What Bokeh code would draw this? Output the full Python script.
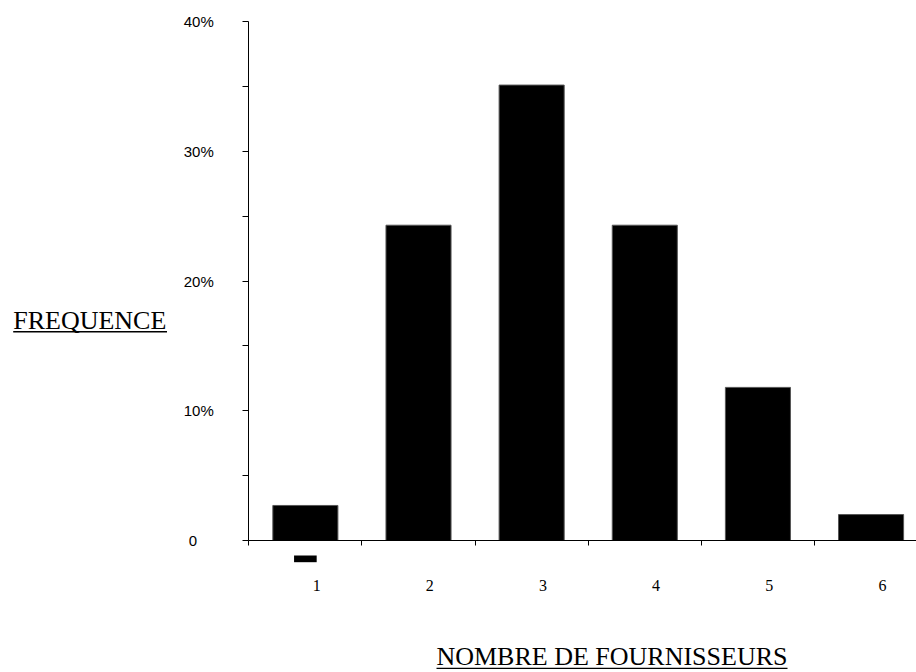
from bokeh.plotting import figure
from bokeh.models import FixedTicker, LinearAxis, Range1d, Label, BoxAnnotation
from bokeh.embed import file_html
from bokeh.resources import INLINE

# ---- data ----
categories = [1, 2, 3, 4, 5, 6]
frequence = [2.7, 24.3, 35.1, 24.3, 11.8, 2.0]
y_ticks = [0, 10, 20, 30, 40]
y_minor_ticks = [5, 15, 25, 35]
y_tick_labels = ["0\u2007\u2007", "10%", "20%", "30%", "40%"]
x_title = "NOMBRE DE FOURNISSEURS"
y_title = "FREQUENCE"

SERIF = "Liberation Serif"
SANS = "Liberation Sans"

# ---- layout (pixels) ----
W, H = 916, 672
X0PX, XU = 248.3, 113.14      # pixel of x=0.5, pixels per category
Y0PX, YU = 540.0, 12.975      # pixel of y=0, pixels per 1 %

def px_to_x(px):
    return 0.5 + (px - X0PX) / XU

def px_to_y(py):
    return (Y0PX - py) / YU

x_start, x_end = px_to_x(0), px_to_x(W)
y_start, y_end = px_to_y(H), px_to_y(0)

p = figure(width=W, height=H, output_backend="svg", toolbar_location=None,
           x_range=Range1d(x_start, x_end), y_range=Range1d(y_start, y_end),
           min_border=0, x_axis_type=None, y_axis_type=None)
p.outline_line_color = None
p.background_fill_color = "white"
p.border_fill_color = "white"

p.vbar(x=categories, top=frequence, width=0.575, fill_color="black",
       line_color="#555555", line_width=1)

# y axis
ya = LinearAxis(fixed_location=0.5, bounds=(y_ticks[0], y_ticks[-1]),
                ticker=FixedTicker(ticks=y_ticks, minor_ticks=y_minor_ticks))
ya.major_label_overrides = {t: l for t, l in zip(y_ticks, y_tick_labels)}
ya.major_tick_out = 6
ya.major_tick_in = 0
ya.minor_tick_out = 6
ya.minor_tick_in = 0
ya.axis_line_color = "black"
ya.major_tick_line_color = "black"
ya.minor_tick_line_color = "black"
ya.major_label_text_font = SANS
ya.major_label_text_font_size = "15px"
ya.major_label_text_color = "black"
ya.major_label_standoff = 29
p.add_layout(ya, "left")

# x axis: line + category boundary ticks
bounds = [c - 0.5 for c in categories] + [categories[-1] + 0.5]
xa = LinearAxis(fixed_location=0, bounds=(0.5, x_end),
                ticker=FixedTicker(ticks=bounds, minor_ticks=[]))
xa.major_tick_out = 5
xa.major_tick_in = 0
xa.minor_tick_out = 0
xa.axis_line_color = "black"
xa.major_tick_line_color = "black"
xa.major_label_text_font_size = "0px"
xa.major_label_text_color = None
p.add_layout(xa, "below")

# x axis category labels (slightly offset like the original)
p.extra_x_ranges = {"labels": Range1d(x_start - 0.1, x_end - 0.1)}
xl = LinearAxis(x_range_name="labels", fixed_location=0,
                ticker=FixedTicker(ticks=categories, minor_ticks=[]))
xl.axis_line_color = None
xl.major_tick_line_color = None
xl.minor_tick_line_color = None
xl.major_tick_out = 0
xl.minor_tick_out = 0
xl.major_label_text_font = SERIF
xl.major_label_text_font_size = "16px"
xl.major_label_text_color = "black"
xl.major_label_standoff = 39
p.add_layout(xl, "below")

# small dash under category 1
p.add_layout(BoxAnnotation(left=categories[0] - 0.1, right=categories[0] + 0.1,
                           top=px_to_y(555), bottom=px_to_y(561.7),
                           fill_color="black", fill_alpha=1, line_color=None))

# axis titles (underlined)
p.add_layout(Label(x=px_to_x(12.7), y=px_to_y(320), text=y_title, text_font=SERIF,
                   text_font_size="26px", text_color="black",
                   text_align="left", text_baseline="middle"))
p.add_layout(BoxAnnotation(left=px_to_x(12.7), right=px_to_x(166.5), top=px_to_y(330.6),
                           bottom=px_to_y(331.9), fill_color="black", fill_alpha=1,
                           line_color=None))

p.add_layout(Label(x=px_to_x(787), y=px_to_y(656), text=x_title, text_font=SERIF,
                   text_font_size="26px", text_color="black",
                   text_align="right", text_baseline="middle"))
p.add_layout(BoxAnnotation(left=px_to_x(436), right=px_to_x(787), top=px_to_y(667.3),
                           bottom=px_to_y(668.6), fill_color="black", fill_alpha=1,
                           line_color=None))

open("out.html", "w").write(file_html(p, INLINE))
